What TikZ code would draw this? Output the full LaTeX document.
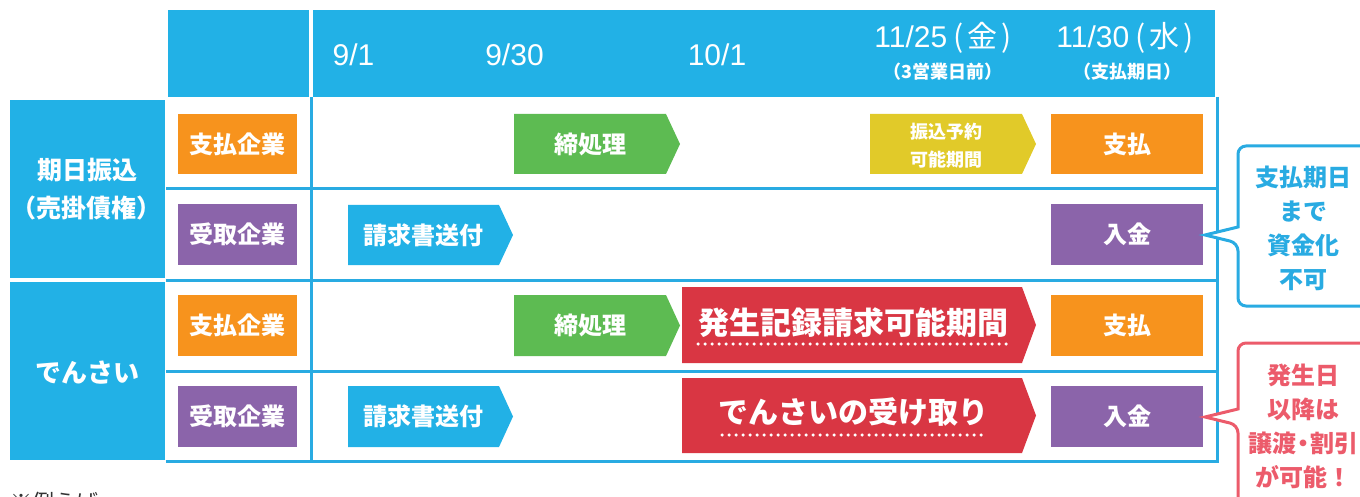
\documentclass[tikz,border=0pt]{standalone}
\usepackage{fontspec}
\setmainfont{Noto Sans CJK JP}
\newfontfamily\latinf{Liberation Sans}
\definecolor{hblue}{HTML}{22B1E6}
\definecolor{lblue}{HTML}{29ABE2}
\definecolor{corange}{HTML}{F7931D}
\definecolor{cpurple}{HTML}{8B64AA}
\definecolor{cgreen}{HTML}{5DBB52}
\definecolor{cyellow}{HTML}{E1CA29}
\definecolor{cred}{HTML}{D93643}
\definecolor{cpink}{HTML}{EC5B6B}
\definecolor{cgray}{HTML}{333333}
\newcommand\chev[6]{\fill[#6] (#1,#4) -- (#2,#4) -- (#3,{(#4+#5)/2}) -- (#2,#5) -- (#1,#5) -- cycle;}
\tikzset{
  tline/.style={draw=lblue, line width=3pt},
  lbl/.style={text=white, font=\fontsize{24}{28}\selectfont\bfseries, inner sep=0pt},
  sml/.style={text=white, font=\fontsize{18}{28}\selectfont\bfseries, inner sep=0pt, align=center},
  big/.style={text=white, font=\fontsize{31}{34}\selectfont\bfseries, inner sep=0pt},
  hdr/.style={text=white, font=\fontsize{30}{32}\selectfont, inner sep=0pt},
  hsub/.style={text=white, font=\fontsize{18}{22}\selectfont\bfseries, inner sep=0pt},
  side/.style={text=white, font=\fontsize{25}{30}\selectfont\bfseries, inner sep=0pt},
  callout/.style={line width=3pt, fill=white, rounded corners=8pt},
  ctext/.style={font=\fontsize{24}{34}\selectfont\bfseries, inner sep=0pt, align=center},
  dotl/.style={draw=white, line width=3.5pt, line cap=round, dash pattern=on 0pt off 7pt}
}
\begin{document}
\begin{tikzpicture}[x=1pt,y=-1pt]
\useasboundingbox (0,0) rectangle (1360,497);
\clip (0,0) rectangle (1360,497);
% header
\fill[hblue] (168,10) rectangle (309,97);
\fill[hblue] (313,10) rectangle (1215,97);
% side labels
\fill[hblue] (10,100) rectangle (165,278);
\fill[hblue] (10,282) rectangle (165,460);
\node[side] (s1) at (87,170) {期日振込};
\node[side] (s2) at (87,208) {（売掛債権）};
\node[side, font=\fontsize{26}{30}\selectfont\bfseries] (s3) at (87,373) {でんさい};
% table lines
\draw[tline] (166,189) -- (1218.5,189);
\draw[tline] (166,280) -- (1218.5,280);
\draw[tline] (166,371) -- (1218.5,371);
\draw[tline] (166,461) -- (1218.5,461);
\draw[tline] (311,97) -- (311,461);
\draw[tline] (1217,97) -- (1217,462.5);
% header texts
\node[hdr] (d1) at (353.5,55) {\latinf 9/1};
\node[hdr] (d2) at (514.5,55) {\latinf 9/30};
\node[hdr] (d3) at (717,55) {\latinf 10/1};
\node[hdr] (d4) at (943,38) {{\latinf 11/25}\hspace{6pt}(\hspace{4pt}金\hspace{4pt})};
\node[hsub] (d4s) at (943,72) {（3営業日前）};
\node[hdr] (d5) at (1125,38) {{\latinf 11/30}\hspace{6pt}(\hspace{4pt}水\hspace{4pt})};
\node[hsub] (d5s) at (1127,72) {（支払期日）};
% left company boxes
\fill[corange] (178,114) rectangle (297,174);
\node[lbl] (p1) at (237.5,144) {支払企業};
\fill[cpurple] (178,204) rectangle (297,265);
\node[lbl] (r1) at (237.5,234.5) {受取企業};
\fill[corange] (178,295) rectangle (297,356);
\node[lbl] (p2) at (237.5,325.5) {支払企業};
\fill[cpurple] (178,386) rectangle (297,447);
\node[lbl] (r2) at (237.5,416.5) {受取企業};
% right boxes
\fill[corange] (1051,114) rectangle (1203,174);
\node[lbl] (pay1) at (1127,144) {支払};
\fill[cpurple] (1051,204) rectangle (1203,265);
\node[lbl] (rec1) at (1127,234.5) {入金};
\fill[corange] (1051,295) rectangle (1203,356);
\node[lbl] (pay2) at (1127,325.5) {支払};
\fill[cpurple] (1051,386) rectangle (1203,447);
\node[lbl] (rec2) at (1127,416.5) {入金};
% chevrons
\chev{514}{666}{680}{114}{174}{cgreen}
\node[lbl] (g1) at (590,144) {締処理};
\chev{348}{499}{513}{205}{265}{hblue}
\node[lbl] (b1) at (423.5,235) {請求書送付};
\chev{870}{1022}{1036}{114}{174}{cyellow}
\node[sml] (y1) at (946,132) {振込予約};
\node[sml] (y2) at (946,160) {可能期間};
\chev{514}{666}{680}{295}{356}{cgreen}
\node[lbl] (g2) at (590,325.5) {締処理};
\chev{682}{1022}{1036}{287}{363}{cred}
\node[big] (red1) at (853,323) {発生記録請求可能期間};
\draw[dotl] (698,344) -- (1010,344);
\chev{348}{499}{513}{386}{447}{hblue}
\node[lbl] (b2) at (423.5,416.5) {請求書送付};
\chev{682}{1022}{1036}{378}{453}{cred}
\node[big, font=\fontsize{30}{34}\selectfont\bfseries] (red2) at (853.5,412) {でんさいの受け取り};
\draw[dotl] (722,435) -- (982,435);
% callouts
\draw[callout, draw=lblue] (1238,227) -- (1238,146) -- (1380,146) -- (1380,306) -- (1238,306) -- (1238,243) [sharp corners] -- (1205,235) -- cycle;
\node[ctext, text=lblue] (c1) at (1303.5,228.5) {支払期日\\まで\\資金化\\不可};
\draw[callout, draw=cpink] (1238,409) -- (1238,343) -- (1380,343) -- (1380,520) -- (1238,520) -- (1238,425) [sharp corners] -- (1205,417) -- cycle;
\node[ctext, text=cpink] (c2) at (1303,426) {発生日\\以降は\\譲渡\hspace{-5pt}・\hspace{-5pt}割引\\が可能！};
% note
\node[anchor=base west, inner sep=0pt, text=cgray, font=\fontsize{22}{26}\selectfont] (note) at (10,510) {※例えば};
\end{tikzpicture}
\end{document}
